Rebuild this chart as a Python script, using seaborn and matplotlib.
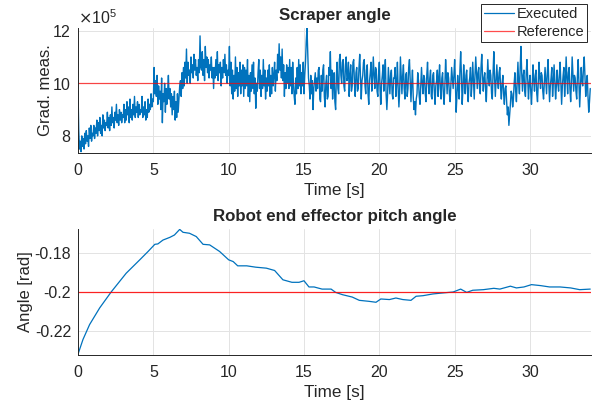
import numpy as np
import pandas as pd
import matplotlib
matplotlib.use("Agg")
import matplotlib.pyplot as plt
import seaborn as sns
from matplotlib.ticker import ScalarFormatter, FuncFormatter

# ---------------- data ----------------
# Scraper angle (gradient measure), in units of 1e5, sampled every 0.05 s from t = 0
scraper_step = 0.05
scraper_vals = [
    9.7, 8.2, 7.5, 7.8, 7.4, 8.0, 7.6, 7.9, 7.5, 8.1, 7.7, 8.2, 7.8, 8.0, 7.6, 8.3, 7.9, 8.4, 7.8, 8.1,
    8.0, 8.4, 7.9, 8.3, 8.1, 8.6, 8.0, 8.5, 8.2, 8.7, 8.1, 8.4, 8.0, 8.8, 8.3, 8.6, 8.2, 8.5, 8.4, 8.9,
    8.3, 8.7, 8.2, 8.8, 8.4, 9.1, 8.5, 8.7, 8.3, 8.9, 8.6, 9.2, 8.5, 8.8, 8.4, 9.0, 8.6, 8.9, 8.5, 8.8,
    8.7, 9.2, 8.5, 9.0, 8.6, 9.3, 8.8, 9.1, 8.5, 9.4, 8.7, 9.0, 8.6, 9.2, 8.8, 9.5, 8.7, 9.1, 8.9, 9.3,
    8.7, 9.2, 8.8, 9.0, 8.9, 9.5, 8.7, 9.1, 8.8, 9.3, 8.6, 9.0, 8.7, 9.4, 8.9, 9.2, 9.0, 9.6, 9.1, 9.4,
    9.3, 10.6, 9.6, 10.1, 9.5, 10.3, 9.2, 9.9, 9.4, 9.7, 9.0, 10.2, 8.5, 9.6, 9.3, 10.0, 8.9, 9.8, 9.2, 9.7,
    10.3, 9.4, 9.8, 9.1, 9.6, 8.8, 9.5, 9.0, 9.7, 8.6, 9.3, 8.7, 9.6, 8.9, 9.4, 9.9, 10.1, 9.5, 10.4, 9.8,
    10.6, 9.9, 10.8, 10.2, 11.3, 10.0, 10.8, 10.3, 10.5, 10.0, 11.0, 10.4, 10.7, 10.2, 11.1, 10.5, 10.9, 10.3, 10.6, 10.1,
    10.9, 10.4, 11.8, 10.6, 10.5, 11.2, 10.3, 10.9, 10.1, 11.4, 10.6, 11.0, 10.4, 10.9, 10.2, 10.7, 10.5, 11.0, 10.2, 10.6,
    9.8, 10.6, 10.2, 10.9, 10.3, 11.2, 10.1, 10.7, 10.4, 10.8, 9.9, 10.6, 10.2, 10.9, 10.4, 11.1, 10.3, 10.7, 10.0, 10.5,
    10.3, 11.4, 9.9, 10.8, 9.6, 10.5, 9.4, 10.3, 9.7, 11.0, 9.8, 10.6, 9.5, 10.4, 9.9, 10.8, 9.6, 10.5, 9.9, 10.7,
    9.5, 10.6, 9.8, 10.5, 9.9, 10.9, 9.5, 10.3, 9.3, 10.4, 9.7, 10.7, 9.8, 10.8, 9.6, 10.2, 9.05, 10.0, 9.7, 10.4,
    10.9, 9.8, 10.5, 9.5, 10.3, 9.8, 10.9, 9.9, 10.5, 9.4, 10.2, 9.7, 10.5, 9.9, 10.7, 9.5, 10.3, 9.6, 10.6, 9.9,
    10.3, 10.8, 9.7, 10.5, 10.1, 11.1, 10.4, 11.5, 10.5, 11.0, 10.2, 11.3, 10.1, 10.7, 9.5, 10.4, 9.8, 10.7, 10.0, 10.6,
    9.8, 10.9, 9.9, 10.6, 9.6, 10.8, 10.0, 9.5, 9.2, 10.2, 9.6, 10.6, 9.8, 10.9, 9.9, 10.7, 9.6, 10.4, 9.9, 10.8,
    9.6, 10.3, 10.8, 11.6, 12.1, 11.2, 10.2, 9.9, 9.4, 10.3, 9.6, 10.1, 9.0, 9.8, 10.1, 10.4, 9.7, 10.2, 9.8, 10.5,
    10.6, 9.4, 9.3, 10.3, 9.7, 10.5, 10.7, 9.5, 9.1, 10.0, 10.3, 9.4, 9.5, 10.6, 10.3, 11.2, 9.8, 10.5, 9.4, 10.0,
    10.4, 9.3, 9.0, 10.3, 10.8, 9.8, 9.6, 10.9, 11.1, 10.3, 10.0, 10.8, 10.9, 9.9, 9.7, 10.7, 11.0, 10.1, 10.2, 10.8,
    9.5, 10.3, 10.7, 9.7, 9.9, 10.8, 10.9, 10.0, 9.5, 10.4, 10.6, 9.7, 9.8, 10.6, 11.1, 10.2, 9.4, 10.1, 10.3, 10.8,
    10.9, 9.9, 9.6, 10.5, 10.7, 9.6, 9.2, 10.1, 10.4, 10.8, 9.7, 10.2, 11.0, 10.3, 9.8, 10.6, 10.5, 9.7, 9.5, 10.3,
    10.8, 9.8, 9.2, 10.0, 10.3, 10.7, 9.7, 10.4, 10.9, 9.6, 9.0, 9.6, 10.6, 10.1, 9.6, 10.3, 10.5, 9.6, 9.4, 10.2,
    10.2, 10.6, 9.5, 10.0, 10.8, 9.8, 9.1, 9.7, 11.0, 10.3, 9.6, 10.3, 10.7, 9.8, 9.4, 10.3, 10.4, 9.5, 9.8, 10.6,
    10.9, 10.1, 9.3, 10.0, 10.5, 9.5, 9.0, 9.3, 8.8, 9.4, 9.6, 10.4, 10.1, 9.5, 9.2, 9.9, 10.6, 10.0, 9.6, 10.3,
    10.2, 9.6, 9.3, 10.3, 10.8, 10.0, 9.6, 10.2, 10.5, 9.5, 9.4, 10.3, 10.4, 9.7, 9.2, 9.9, 10.1, 10.5, 9.5, 10.2,
    10.7, 9.8, 9.4, 10.2, 10.4, 9.6, 9.2, 9.9, 10.9, 10.3, 9.6, 10.4, 10.2, 9.6, 9.3, 10.0, 10.6, 10.2, 9.8, 10.3,
    10.9, 10.0, 8.9, 9.5, 10.3, 9.8, 9.4, 10.5, 11.2, 10.3, 9.2, 9.8, 10.7, 10.1, 9.6, 10.3, 10.5, 9.7, 9.3, 10.0,
    10.2, 10.6, 9.5, 10.0, 10.8, 10.1, 9.4, 10.3, 11.0, 10.4, 9.8, 10.4, 10.6, 9.8, 9.6, 10.6, 11.1, 10.3, 9.7, 10.2,
    10.4, 9.8, 9.3, 10.1, 10.9, 10.2, 9.9, 10.5, 10.3, 9.6, 9.4, 10.4, 11.2, 10.2, 9.5, 10.1, 10.7, 10.1, 9.8, 10.4,
    10.6, 9.8, 9.4, 10.0, 10.3, 9.6, 9.2, 9.8, 9.9, 9.3, 8.8, 9.1, 8.4, 8.8, 9.2, 9.7, 9.6, 9.1, 9.4, 10.0,
    10.4, 9.7, 9.3, 10.1, 10.8, 10.0, 9.6, 10.6, 11.4, 10.4, 9.7, 10.3, 10.5, 9.7, 9.5, 10.4, 10.9, 10.1, 9.4, 10.0,
    10.3, 9.7, 9.2, 10.0, 10.7, 10.1, 9.7, 10.3, 10.5, 9.6, 9.3, 10.1, 10.8, 10.2, 9.8, 10.4, 10.3, 9.7, 9.4, 10.0,
    10.6, 10.1, 9.6, 10.4, 10.9, 10.0, 9.3, 9.9, 10.2, 10.6, 9.5, 10.0, 10.7, 10.1, 9.4, 9.9, 10.5, 10.0, 9.7, 10.3,
    10.8, 10.0, 9.2, 9.9, 10.3, 10.6, 9.5, 10.1, 11.0, 10.2, 9.6, 10.4, 10.6, 9.8, 9.3, 10.0, 11.0, 10.3, 9.7, 10.3,
    10.2, 9.7, 9.4, 10.3, 10.9, 10.0, 9.1, 9.8, 10.6, 10.1, 9.9, 10.6, 11.0, 10.2, 9.5, 10.0, 10.3, 9.5, 8.9, 9.3,
    9.8,
]
scraper_reference = 10.0  # in units of 1e5

# Robot end effector pitch angle [rad]
pitch_time = [0, 0.33, 0.77, 1.44, 2.2, 3.2, 4.1, 4.65, 5.1, 5.3, 5.64, 6.1, 6.4,
              6.75, 6.97, 7.4, 7.85, 8.3, 8.74, 9.4, 10.0, 10.3, 10.6, 11.2, 11.8,
              12.5, 13.05, 13.6, 14.2, 14.67, 15.0, 15.33, 15.67, 16.2, 16.8, 17.1,
              17.56, 18.2, 18.67, 19.3, 19.78, 20.1, 20.67, 21.1, 21.56, 22.1, 22.44,
              22.9, 23.56, 24.2, 24.9, 25.4, 25.8, 26.2, 26.9, 27.6, 28.0, 28.7, 29.1,
              29.6, 30.1, 30.7, 31.3, 32.0, 32.7, 33.3, 34.0]
pitch_vals = [-0.2321, -0.2245, -0.2168, -0.2082, -0.2000, -0.1903, -0.1834, -0.1791,
              -0.1754, -0.1752, -0.1732, -0.1718, -0.1706, -0.1677, -0.1692, -0.1697,
              -0.1714, -0.1754, -0.1757, -0.1791, -0.1834, -0.1843, -0.1865, -0.1865,
              -0.1872, -0.1877, -0.1889, -0.1937, -0.1950, -0.1950, -0.1942, -0.1974,
              -0.1974, -0.1985, -0.1985, -0.2002, -0.2014, -0.2026, -0.2043, -0.2048,
              -0.2053, -0.2036, -0.2039, -0.2031, -0.2039, -0.2043, -0.2022, -0.2019,
              -0.2010, -0.2005, -0.2000, -0.1985, -0.2002, -0.1991, -0.1988, -0.1981,
              -0.1985, -0.1970, -0.1979, -0.1974, -0.1962, -0.1967, -0.1974, -0.1974,
              -0.1979, -0.1988, -0.1985]
pitch_reference = -0.2

x_ticks = [0, 5, 10, 15, 20, 25, 30]
x_limits = (0, 34.05)

# ---------------- style ----------------
sns.set_style("white")
plt.rcParams["font.family"] = ["Liberation Sans", "DejaVu Sans"]
plt.rcParams["axes.unicode_minus"] = False

BLUE = "#0072BD"
RED = "#FF0000"
DARK = "#262626"
GRID = "#e3e3e3"

fig = plt.figure(figsize=(5.94, 4.07), dpi=100)
ax1 = fig.add_axes([78 / 594, 1 - 153 / 407, 513 / 594, 125 / 407])
ax2 = fig.add_axes([78 / 594, 1 - 355 / 407, 513 / 594, 126 / 407])

scraper_df = pd.DataFrame({
    "t": np.arange(len(scraper_vals)) * scraper_step,
    "v": np.array(scraper_vals) * 1e5,
})
pitch_df = pd.DataFrame({"t": pitch_time, "v": pitch_vals})

sns.lineplot(data=scraper_df, x="t", y="v", ax=ax1, color=BLUE, linewidth=1.0,
             label="Executed", estimator=None, sort=False)
ax1.axhline(scraper_reference * 1e5, color=RED, linewidth=0.9, alpha=0.7, label="Reference")

sns.lineplot(data=pitch_df, x="t", y="v", ax=ax2, color=BLUE, linewidth=0.9,
             estimator=None, sort=False)
ax2.axhline(pitch_reference, color=RED, linewidth=0.9, alpha=0.85)

def style_ax(ax):
    ax.set_xlim(*x_limits)
    ax.set_xticks(x_ticks)
    ax.grid(True, color=GRID, linewidth=0.7)
    ax.set_axisbelow(True)
    for s in ["top", "right"]:
        ax.spines[s].set_visible(False)
    for s in ["left", "bottom"]:
        ax.spines[s].set_color(DARK)
        ax.spines[s].set_linewidth(0.7)
    ax.tick_params(direction="in", length=3, width=0.7, colors=DARK,
                   labelsize=11.5, labelcolor=DARK, pad=5)
    ax.tick_params(axis="x", pad=7)
    ax.set_xlabel("Time [s]", fontsize=12.3, color=DARK, labelpad=4)

style_ax(ax1)
style_ax(ax2)

ax1.set_ylim(7.35e5, 12.1e5)
ax1.set_yticks([8e5, 10e5, 12e5])
fmt = ScalarFormatter(useMathText=True)
fmt.set_powerlimits((5, 5))
ax1.yaxis.set_major_formatter(fmt)
ax1.yaxis.get_offset_text().set_fontsize(11.5)
ax1.yaxis.get_offset_text().set_color(DARK)
ax1.set_ylabel("Grad. meas.", fontsize=12, color=DARK, labelpad=-1)
ax1.set_title("Scraper angle", fontsize=12.2, fontweight="bold", pad=6)

ax2.set_ylim(-0.2325, -0.1675)
ax2.set_yticks([-0.22, -0.2, -0.18])
ax2.yaxis.set_major_formatter(FuncFormatter(lambda v, p: "%g" % round(v, 4)))
ax2.set_ylabel("Angle [rad]", fontsize=12, color=DARK, labelpad=1)
ax2.set_title("Robot end effector pitch angle", fontsize=12.2, fontweight="bold", pad=6)

leg = ax1.legend(loc="upper right", bbox_to_anchor=(587 / 594, 1 - 4 / 407),
                 bbox_transform=fig.transFigure, fancybox=False, framealpha=1,
                 edgecolor=DARK, fontsize=10.5, handlelength=2.0, handletextpad=0.2,
                 borderpad=0.2, labelspacing=0.3, borderaxespad=0)
leg.get_frame().set_linewidth(0.7)
for line in leg.get_lines():
    line.set_linewidth(0.9)

fig.savefig("out.png", dpi=100)
